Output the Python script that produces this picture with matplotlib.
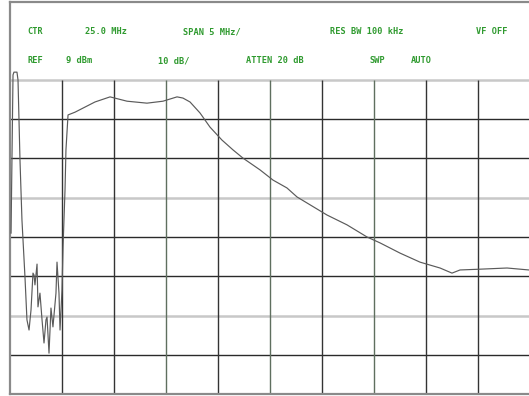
import matplotlib
matplotlib.use("Agg")
import matplotlib.pyplot as plt

# analyzer trace, frequency in MHz and level in dBm
freq_mhz = [0.10, 0.29, 0.38, 0.67, 0.77, 0.96, 1.15, 1.44, 1.63, 1.83, 2.02, 2.21,
            2.31, 2.40, 2.60, 2.69, 2.88, 3.08, 3.27, 3.46, 3.56, 3.75, 3.94, 4.13,
            4.42, 4.52, 4.71, 4.81, 5.00, 5.10, 5.29, 5.38, 5.58, 6.25, 7.21, 8.17,
            9.62, 11.25, 13.17, 14.71, 16.06, 16.63, 17.31, 18.27, 19.23, 20.38,
            21.44, 22.40, 24.04, 25.29, 26.63, 27.60, 30.48, 32.40, 34.33, 35.58,
            37.50, 39.42, 41.35, 42.50, 43.27, 45.19, 47.79, 49.90]
level_dbm = [-30.0, 10.3, 11.0, 11.0, 9.0, -11.4, -26.7, -41.2, -52.1, -54.7, -49.6, -40.2,
             -40.7, -43.2, -37.9, -48.8, -45.3, -52.1, -58.0, -52.1, -51.4, -60.6, -49.1, -53.9,
             -45.3, -37.4, -45.3, -54.7, -44.5, -33.5, -19.0, -8.8, 0.1, 0.8, 2.1, 3.4,
             4.7, 3.6, 3.1, 3.6, 4.7, 4.4, 3.4, 0.6, -3.0, -6.3,
             -8.8, -10.9, -13.9, -16.5, -18.5, -20.8, -25.4, -27.9, -31.0, -32.5,
             -35.1, -37.4, -38.9, -40.2, -39.4, -39.2, -38.9, -39.4]

ref_dbm = 9
db_per_div = 10
mhz_per_div = 5
n_hdiv = 8
n_vdiv = 10

header_row1 = ["CTR", "25.0 MHz", "SPAN 5 MHz/", "RES BW 100 kHz", "VF OFF"]
header_row2 = ["REF", "9 dBm", "10 dB/", "ATTEN 20 dB", "SWP", "AUTO"]

W, H = 529, 396
fig = plt.figure(figsize=(W / 100, H / 100), dpi=100)
ax = fig.add_axes([10 / W, 2 / H, (W - 10) / W, 392 / H])

bottom = ref_dbm - n_hdiv * db_per_div
px_per_db = 39.25 / db_per_div
ax.set_ylim(bottom, ref_dbm + 78 / px_per_db)
ax.set_xlim(0, 519 * mhz_per_div / 52)

# graticule: every third horizontal line is the light one
for i in range(n_hdiv):
    y = ref_dbm - i * db_per_div
    if i % 3 == 0:
        ax.axhline(y, color="#c8c8c8", lw=1.8, zorder=1)
    else:
        ax.axhline(y, color="#2a2a2a", lw=1.0, zorder=1)
for j in range(1, n_vdiv):
    col = "#5f6f5f" if j in (3, 5, 7) else "#333333"
    ax.vlines(j * mhz_per_div, bottom, ref_dbm, color=col, lw=1.0, zorder=1)

ax.plot(freq_mhz, level_dbm, color="#5a5a5a", lw=0.85, zorder=3)

ax.set_xticks([])
ax.set_yticks([])
for side in ("left", "top", "bottom"):
    ax.spines[side].set_color("#8a8a8a")
    ax.spines[side].set_linewidth(1.6)
ax.spines["right"].set_visible(False)

green = "#2f9a2f"
row1_x = [27, 85, 183, 330, 476]
row2_x = [27, 66, 158, 246, 370, 411]
font = dict(color=green, fontsize=6.2, fontweight="bold", family="DejaVu Sans Mono",
            va="center", ha="left")
for label, x in zip(header_row1, row1_x):
    fig.text(x / W, 1 - 32 / H, label, **font)
for label, x in zip(header_row2, row2_x):
    fig.text(x / W, 1 - 60.5 / H, label, **font)

fig.savefig("out.png", dpi=100)
